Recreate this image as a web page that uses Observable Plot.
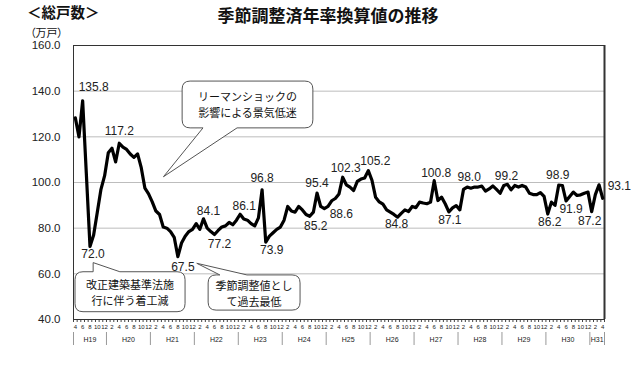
<!DOCTYPE html>
<html><head><meta charset="utf-8">
<script src="https://cdn.jsdelivr.net/npm/d3@7"></script>
<script src="https://cdn.jsdelivr.net/npm/@observablehq/plot@0.6"></script>
<style>
body{margin:0;background:#fff;}
#wrap{position:relative;width:640px;height:366px;overflow:hidden;font-family:"Noto Sans CJK JP",sans-serif;background:#fff;}
#head{position:relative;height:38px;}
.t{position:absolute;white-space:nowrap;line-height:1;color:#111;}
#chart svg{display:block;}
</style></head><body>
<div id="wrap"><div id="head">
<div class="t" style="left:27px;top:5px;font-size:14.5px;font-weight:700">＜総戸数＞</div>
<div class="t" style="left:0;width:656px;text-align:center;top:6px;font-size:17px;font-weight:700">季節調整済年率換算値の推移</div>
<div class="t" style="left:30px;top:27px;font-size:11px;font-feature-settings:'palt'">（万戸）</div>
</div><div id="chart"></div></div>
<script>
// monthly seasonally adjusted annual rate (10k units), H19.4 .. H31.4
const values = [
 128.3,120.0,135.8,104.0,72.0,77.0,87.0,97.0,103.0,
 113.0,115.0,109.0,117.2,115.5,114.5,112.5,111.0,112.5,106.5,97.5,95.0,
 91.5,87.5,86.0,80.5,80.0,78.5,76.0,67.5,73.5,76.5,78.5,79.5,
 82.0,79.5,84.1,80.0,78.5,77.2,79.0,80.5,81.0,82.5,81.5,83.5,
 86.1,84.0,83.5,82.0,81.0,84.5,96.8,73.9,76.5,78.0,79.5,80.5,
 83.5,89.5,87.5,87.0,89.5,88.0,86.0,85.2,87.0,95.4,89.5,88.6,
 89.5,92.0,93.0,95.0,102.3,99.0,98.0,96.5,100.5,101.5,102.0,105.2,
 101.0,93.5,91.5,90.5,88.0,87.0,86.0,84.8,86.5,88.0,87.3,89.5,
 89.0,91.4,91.0,90.7,91.4,100.8,92.1,93.6,90.7,87.1,88.9,89.9,
 88.0,97.0,98.0,97.5,98.0,98.0,98.4,96.2,97.2,98.5,97.0,95.3,
 98.7,99.2,96.8,98.7,98.0,98.7,98.0,95.3,94.7,94.7,95.6,93.9,
 86.2,91.4,90.0,98.9,98.7,91.9,93.9,95.8,94.3,94.6,95.3,95.8,
 87.2,94.7,99.0,93.1
];
const startMonth = 4;
const yTicks = [40, 60, 80, 100, 120, 140, 160];
const eraLabels = ["H19","H20","H21","H22","H23","H24","H25","H26","H27","H28","H29","H30","H31"];
// labelled points: index into values, text offset
const labelIdx  = [2, 12, 4, 28, 35, 38, 45, 51, 52, 64, 66, 68, 73, 80, 88, 98, 102, 107, 118, 129, 132, 134, 141, 144];
const labelDx   = [11, 0, 3, 5, 5, 5, 4, 0, 6, 6, 0, 17, 3, 7, -1, 2, 1, 2, -1, 2, -1, 5, -2, 5];
const labelDy   = [-14, -12, 8, 10, -8, 10, -8, -12, 8, 10, -10, 6, -9, -9, 7, -8, 8, -10, -8, 8, -10, 8, 9, -12];
// callouts (data units: month index, 10k units)
const callouts = [
 {lines: ["リーマンショックの", "影響による景気低迷"], i1: 29.3, i2: 65.0, vTop: 144.2, vBot: 123.7, tip: [24.2, 102.3], base: [35.0, 44.3], edge: "bottom"},
 {lines: ["改正建築基準法施", "行に伴う着工減"], i1: 0.05, i2: 30.1, vTop: 60.7, vBot: 43.2, tip: [5.0, 64.7], base: [5.0, 12.3], edge: "top"},
 {lines: ["季節調整値とし", "て過去最低"], i1: 36.4, i2: 61.5, vTop: 59.3, vBot: 43.9, tip: [33.3, 64.4], base: [39.6, 47.0], edge: "top"}
];

const monthOf = i => ((startMonth - 1 + i) % 12) + 1;
const idx = d3.range(values.length);
const data = idx.map(i => ({i, v: values[i]}));
const boundaries = d3.range(values.length + 1).map(k => k - 0.5);
const yearStarts = [-0.5, ...idx.filter(i => monthOf(i) === 1).map(i => i - 0.5), values.length - 0.5];
const eraData = eraLabels.map((t, k) => ({t, x: (yearStarts[k] + yearStarts[k + 1]) / 2}));
const evenIdx = idx.filter(i => monthOf(i) % 2 === 0);

const numFont = "'Liberation Sans', Arial, sans-serif";
const chart = Plot.plot({
  width: 640, height: 328,
  marginTop: 7, marginBottom: 47, marginLeft: 73, marginRight: 36,
  style: {fontFamily: numFont, background: "white", color: "#222", overflow: "visible"},
  x: {domain: [-0.5, values.length - 0.5]},
  y: {domain: [40, 160]},
  marks: [
    Plot.gridY(yTicks, {stroke: "#bdbdbd", strokeOpacity: 1}),
    Plot.axisY(yTicks, {tickSize: 0, tickPadding: 13, tickFormat: d3.format(".1f"), fontSize: 11.5, label: null}),
    Plot.axisX(boundaries, {tickSize: 3, tickFormat: () => "", stroke: "#444", label: null}),
    Plot.axisX(evenIdx, {tickSize: 0, tickPadding: 5, tickFormat: monthOf, fontSize: 6, label: null}),
    Plot.axisX(yearStarts, {tickSize: 13, dy: 13, tickFormat: () => "", stroke: "#999", label: null}),
    Plot.text(eraData, {x: "x", frameAnchor: "bottom", dy: 22, text: "t", fontSize: 7}),
    Plot.frame({stroke: "#333"}),
    Plot.ruleX([values.length - 0.5], {stroke: "#333", strokeWidth: 2}),
    Plot.lineY(data, {x: "i", y: "v", stroke: "#000", strokeWidth: 3.2, strokeLinejoin: "round"}),
    ...labelIdx.map((li, k) => Plot.text([data[li]], {
      x: "i", y: "v", text: d => d.v.toFixed(1),
      dx: labelDx[k], dy: labelDy[k], fontSize: 12, fill: "#222",
      textAnchor: li === values.length - 1 ? "start" : "middle"
    }))
  ]
});
document.getElementById("chart").appendChild(chart);

// callouts drawn through the chart's scales
const sx = chart.scale("x"), sy = chart.scale("y");
const X = v => sx.apply(v), Y = v => sy.apply(v);
const g = d3.select(chart).append("g");
for (const c of callouts) {
  const x1 = X(c.i1), x2 = X(c.i2), y1 = Y(c.vTop), y2 = Y(c.vBot), r = 8;
  const b1 = X(c.base[0]), b2 = X(c.base[1]), tx = X(c.tip[0]), ty = Y(c.tip[1]);
  let p = `M${x1 + r},${y1}`;
  if (c.edge === "top") p += `L${b1},${y1}L${tx},${ty}L${b2},${y1}`;
  p += `L${x2 - r},${y1}Q${x2},${y1} ${x2},${y1 + r}L${x2},${y2 - r}Q${x2},${y2} ${x2 - r},${y2}`;
  if (c.edge === "bottom") p += `L${b2},${y2}L${tx},${ty}L${b1},${y2}`;
  p += `L${x1 + r},${y2}Q${x1},${y2} ${x1},${y2 - r}L${x1},${y1 + r}Q${x1},${y1} ${x1 + r},${y1}Z`;
  g.append("path").attr("d", p).attr("fill", "#fff").attr("stroke", "#555").attr("stroke-width", 1);
  const cx = (x1 + x2) / 2, cy = (y1 + y2) / 2, lh = 16;
  c.lines.forEach((t, k) => {
    g.append("text").attr("x", cx).attr("y", cy + (k - (c.lines.length - 1) / 2) * lh)
      .attr("text-anchor", "middle").attr("dominant-baseline", "central")
      .attr("font-family", "'Noto Sans CJK JP', sans-serif").attr("font-size", 11).attr("fill", "#111")
      .text(t);
  });
}
</script>
</body></html>
